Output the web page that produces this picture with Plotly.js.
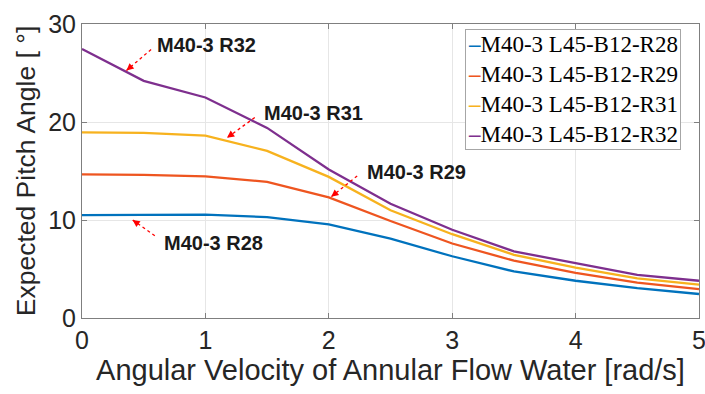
<!DOCTYPE html>
<html>
<head>
<meta charset="utf-8">
<script src="https://cdn.plot.ly/plotly-3.0.1.min.js"></script>
<style>html,body{margin:0;padding:0;background:#fff;}#plot{width:705px;height:394px;}</style>
</head>
<body>
<div id="plot"></div>
<script>
const omega = [0, 0.5, 1, 1.5, 2, 2.5, 3, 3.5, 4, 4.5, 5];
const seriesNames = ['M40-3 L45-B12-R28', 'M40-3 L45-B12-R29', 'M40-3 L45-B12-R31', 'M40-3 L45-B12-R32'];
const r28 = [10.5, 10.5, 10.55, 10.3, 9.55, 8.1, 6.3, 4.75, 3.8, 3.05, 2.45];
const r29 = [14.65, 14.6, 14.45, 13.9, 12.3, 9.9, 7.6, 5.85, 4.6, 3.6, 2.95];
const r31 = [18.95, 18.9, 18.6, 17.05, 14.4, 11.0, 8.55, 6.45, 5.15, 4.05, 3.4];
const r32 = [27.45, 24.2, 22.5, 19.4, 15.15, 11.65, 9.0, 6.8, 5.6, 4.4, 3.8];
const colors = ['#0072BD', '#EE5520', '#F7B21E', '#7E2F8E'];

// callout labels: text, label position, arrow tail, arrow head (data units)
const calloutText = ['M40-3 R32', 'M40-3 R31', 'M40-3 R29', 'M40-3 R28'];
const calloutLabelX = [0.59, 1.46, 2.29, 0.65];
const calloutLabelY = [27.85, 20.95, 14.85, 7.7];
const calloutTailX = [0.56, 1.40, 2.23, 0.59];
const calloutTailY = [27.4, 20.45, 14.5, 8.4];
const calloutHeadX = [0.36, 1.175, 2.02, 0.41];
const calloutHeadY = [25.25, 18.4, 12.37, 10.0];

const allY = [r28, r29, r31, r32];
const traces = allY.map((y, i) => ({
  x: omega, y: y, type: 'scatter', mode: 'lines', name: seriesNames[i],
  line: {color: colors[i], width: 2.3}, showlegend: false
}));

const shapes = [];
const annotations = [];
for (let i = 0; i < calloutText.length; i++) {
  shapes.push({type: 'line', xref: 'x', yref: 'y',
    x0: calloutTailX[i], y0: calloutTailY[i], x1: calloutHeadX[i], y1: calloutHeadY[i],
    line: {color: '#FF0000', width: 1.3, dash: 'dot'}});
  const dx = calloutHeadX[i] - calloutTailX[i], dy = calloutHeadY[i] - calloutTailY[i];
  annotations.push({x: calloutHeadX[i], y: calloutHeadY[i], xref: 'x', yref: 'y',
    ax: calloutHeadX[i] - dx * 0.25, ay: calloutHeadY[i] - dy * 0.25, axref: 'x', ayref: 'y',
    text: '', showarrow: true, arrowhead: 2, arrowsize: 1.1, arrowwidth: 1.3, arrowcolor: '#FF0000'});
  annotations.push({x: calloutLabelX[i], y: calloutLabelY[i], xref: 'x', yref: 'y',
    text: '<b>' + calloutText[i] + '</b>', showarrow: false, xanchor: 'left', yanchor: 'middle',
    font: {family: 'Liberation Sans, Arial, sans-serif', size: 20, color: '#1a1a1a'}});
}

// compact MATLAB-style legend box
const legendText = seriesNames.map((n, i) =>
  '<span style="color:' + colors[i] + '"><b>–</b></span>' + n).join('<br>');
annotations.push({xref: 'paper', yref: 'paper', x: 0.62, y: 0.983, xanchor: 'left', yanchor: 'top',
  text: legendText, showarrow: false, align: 'left',
  bgcolor: '#fff', bordercolor: '#A6A6A6', borderwidth: 1, borderpad: 2,
  font: {family: 'Liberation Serif, Times New Roman, serif', size: 23, color: '#000'}});

const layout = {
  width: 705, height: 394,
  margin: {l: 82, r: 6, t: 24, b: 76},
  paper_bgcolor: '#fff', plot_bgcolor: '#fff',
  font: {family: 'Liberation Sans, Arial, sans-serif', color: '#262626'},
  showlegend: false,
  xaxis: {range: [0, 5], tickvals: [0, 1, 2, 3, 4, 5], ticktext: ['0', '1', '2', '3', '4', '5'],
    showgrid: true, gridcolor: '#E6E6E6', gridwidth: 1, zeroline: false,
    showline: true, linecolor: '#7F7F7F', linewidth: 1, mirror: 'ticks',
    ticks: 'inside', ticklen: 5, tickcolor: '#7F7F7F', ticklabeloverflow: 'allow',
    tickfont: {size: 25, color: '#262626'},
    title: {text: 'Angular Velocity of Annular Flow Water [rad/s]', font: {size: 29, color: '#262626'}, standoff: 5}},
  yaxis: {range: [0, 30], tickvals: [0, 10, 20, 30], ticktext: ['0', '10', '20', '30'],
    showgrid: true, gridcolor: '#E6E6E6', gridwidth: 1, zeroline: false,
    showline: true, linecolor: '#7F7F7F', linewidth: 1, mirror: 'ticks',
    ticks: 'inside', ticklen: 5, tickcolor: '#7F7F7F', ticklabeloverflow: 'allow',
    tickfont: {size: 25, color: '#262626'},
    title: {text: 'Expected Pitch Angle [ °]', font: {size: 26.5, color: '#262626'}, standoff: 4}},
  shapes: shapes,
  annotations: annotations
};

Plotly.newPlot('plot', traces, layout, {displayModeBar: false, staticPlot: true});
</script>
</body>
</html>
